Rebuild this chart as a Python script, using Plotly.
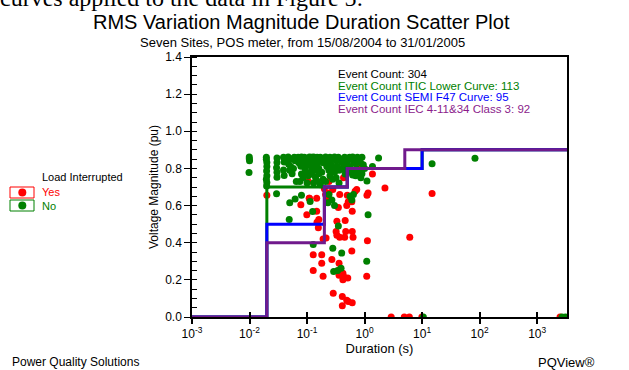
import plotly.graph_objects as go

# ---------------- data ----------------
green_dur = [0.0099, 0.0099, 0.0100, 0.0098,
             0.0196, 0.0196, 0.0200, 0.0200, 0.0198, 0.0200, 0.0196, 0.0200, 0.0198,
             0.0300, 0.0300, 0.0295, 0.0300, 0.0300, 0.0295,
             0.0390, 0.0400, 0.0390, 0.0400,
             0.047, 0.050, 0.048, 0.052, 0.050, 0.055, 0.060, 0.062, 0.058, 0.065, 0.050, 0.049, 0.062,
             0.070, 0.075, 0.072, 0.080, 0.085, 0.078, 0.090, 0.095, 0.088, 0.100, 0.092, 0.098, 0.080, 0.085, 0.075, 0.080, 0.105, 0.100,
             0.110, 0.115, 0.120, 0.125, 0.130, 0.140, 0.150, 0.160, 0.110, 0.120, 0.130, 0.140, 0.150, 0.160, 0.170, 0.180, 0.190,
             0.120, 0.140, 0.160, 0.180, 0.190, 0.130, 0.150, 0.170, 0.113, 0.125, 0.128,
             0.210, 0.220, 0.230, 0.250, 0.270, 0.300, 0.320, 0.350, 0.380, 0.400, 0.220, 0.240, 0.260, 0.280, 0.300, 0.330, 0.360,
             0.420, 0.450, 0.480, 0.250, 0.280, 0.320, 0.360, 0.210, 0.280, 0.290, 0.350, 0.400, 0.390, 0.300, 0.240, 0.270, 0.230,
             0.550, 0.600, 0.650, 0.680, 0.780, 0.800, 0.810, 0.860, 0.900, 1.100, 0.560, 0.640, 0.600, 1.150, 1.090, 1.370, 1.750,
             0.520, 0.580, 0.340,
             0.500, 0.620, 0.700, 0.750, 0.850, 0.950, 1.000, 0.720, 0.660, 0.900, 0.450, 0.500, 0.400, 0.550, 0.620, 0.700, 0.460,
             14.9, 83.0, 10.5, 2700, 3100]
green_mag = [0.862, 0.852, 0.842, 0.778,
             0.860, 0.850, 0.832, 0.810, 0.786, 0.760, 0.742, 0.724, 0.706,
             0.856, 0.832, 0.804, 0.780, 0.752, 0.664,
             0.860, 0.834, 0.792, 0.762,
             0.862, 0.850, 0.822, 0.810, 0.790, 0.772, 0.860, 0.842, 0.800, 0.730, 0.615, 0.525, 0.636,
             0.860, 0.850, 0.830, 0.862, 0.842, 0.812, 0.860, 0.850, 0.822, 0.832, 0.800, 0.780, 0.770, 0.750, 0.730, 0.655, 0.760, 0.722,
             0.862, 0.850, 0.860, 0.842, 0.862, 0.850, 0.860, 0.842, 0.820, 0.800, 0.822, 0.790, 0.812, 0.800, 0.860, 0.850, 0.830,
             0.770, 0.752, 0.772, 0.780, 0.742, 0.722, 0.732, 0.712, 0.622, 0.568, 0.390,
             0.862, 0.850, 0.840, 0.860, 0.850, 0.862, 0.842, 0.860, 0.850, 0.832, 0.810, 0.790, 0.820, 0.800, 0.780, 0.812, 0.790,
             0.800, 0.860, 0.842, 0.760, 0.742, 0.750, 0.722, 0.730, 0.370, 0.245, 0.490, 0.344, 0.262, 0.600, 0.660, 0.630, 0.615,
             0.860, 0.850, 0.832, 0.828, 0.842, 0.786, 0.770, 0.750, 0.772, 0.732, 0.650, 0.660, 0.630, 0.550, 0.300, 0.810, 0.856,
             0.800, 0.780, 0.250,
             0.855, 0.862, 0.850, 0.860, 0.830, 0.820, 0.800, 0.800, 0.790, 0.860, 0.820, 0.835, 0.800, 0.810, 0.765, 0.760, 0.770,
             0.825, 0.855, 0.0, 0.0, 0.0]

red_dur = [0.0200, 0.0780, 0.0990, 0.105, 0.109, 0.147, 0.149, 0.157, 0.160, 0.128, 0.180, 0.180, 0.128, 0.190, 0.190,
           0.214, 0.220, 0.240, 0.200, 0.210, 0.230, 0.270, 0.285, 0.330, 0.330, 0.360, 0.360, 0.430, 0.420, 0.410,
           0.490, 0.610, 0.410, 0.520, 0.370, 0.450, 0.470, 0.610, 0.630, 0.600, 0.610, 0.490, 0.520, 0.350, 0.460,
           0.685, 1.120, 1.090, 1.150, 1.100, 0.790, 2.260, 2.900, 4.900, 6.000, 9.900, 14.9, 6.100, 2500, 1.370,
           0.370, 0.500, 0.280, 0.240, 0.430, 0.560, 0.730, 0.147, 0.600, 0.110, 0.420, 0.510, 0.320]
red_mag = [0.655, 0.605, 0.550, 0.730, 0.640, 0.570, 0.510, 0.480, 0.525, 0.335, 0.335, 0.290, 0.250, 0.220, 0.420,
           0.425, 0.620, 0.668, 0.690, 0.660, 0.650, 0.310, 0.128, 0.515, 0.440, 0.290, 0.225, 0.220, 0.200, 0.110,
           0.090, 0.077, 0.060, 0.083, 0.430, 0.430, 0.460, 0.460, 0.430, 0.355, 0.570, 0.600, 0.620, 0.590, 0.520,
           0.677, 0.410, 0.220, 0.668, 0.655, 0.815, 0.695, 0.0, 0.0, 0.0, 0.0, 0.665, 0.430, 0.0, 0.770,
           0.660, 0.655, 0.686, 0.730, 0.750, 0.785, 0.686, 0.640, 0.620, 0.640, 0.235, 0.210, 0.460]

itic_dur = [0.001, 0.02, 0.02, 0.5, 0.5, 10, 10, 10000]
itic_mag = [0, 0, 0.7, 0.7, 0.8, 0.8, 0.9, 0.9]
semi_dur = [0.001, 0.02, 0.02, 0.2, 0.2, 0.5, 0.5, 10, 10, 10000]
semi_mag = [0, 0, 0.5, 0.5, 0.7, 0.7, 0.8, 0.8, 0.9, 0.9]
iec_dur = [0.001, 0.02, 0.02, 0.2, 0.2, 0.5, 0.5, 5, 5, 10000]
iec_mag = [0, 0, 0.4, 0.4, 0.7, 0.7, 0.8, 0.8, 0.9, 0.9]

x_tickvals = [1e-3, 1e-2, 1e-1, 1e0, 1e1, 1e2, 1e3]
x_ticktext = ["10<sup>-3</sup>", "10<sup>-2</sup>", "10<sup>-1</sup>", "10<sup>0</sup>",
              "10<sup>1</sup>", "10<sup>2</sup>", "10<sup>3</sup>"]

count_lines = ["Event Count: 304", "Event Count ITIC Lower Curve: 113",
               "Event Count SEMI F47 Curve: 95", "Event Count IEC 4-11&34 Class 3: 92"]
legend_labels = ["Yes", "No"]

# ---------------- style ----------------
FONT = "Arial, Liberation Sans, sans-serif"
RED = "#ff0000"
GREEN = "#008000"
BLUE = "#0000ff"
PURPLE = "#701a8c"
PURPLE_TXT = "#8b1c8b"

W, H = 629, 370
L, R, T, B = 192, 567, 57, 317


def pxx(x):
    return (x - L) / (R - L)


def pxy(y):
    return (B - y) / (B - T)


fig = go.Figure()
fig.add_trace(go.Scatter(x=red_dur, y=red_mag, mode="markers", name="Yes",
                         marker=dict(color=RED, size=7, line=dict(width=0)), showlegend=False))
fig.add_trace(go.Scatter(x=green_dur, y=green_mag, mode="markers", name="No",
                         marker=dict(color=GREEN, size=7, line=dict(width=0)), showlegend=False))
fig.add_trace(go.Scatter(x=itic_dur, y=itic_mag, mode="lines",
                         line=dict(color=GREEN, width=3), showlegend=False, hoverinfo="skip"))
fig.add_trace(go.Scatter(x=semi_dur, y=semi_mag, mode="lines",
                         line=dict(color=BLUE, width=3), showlegend=False, hoverinfo="skip"))
fig.add_trace(go.Scatter(x=iec_dur, y=iec_mag, mode="lines", xaxis="x2",
                         line=dict(color=PURPLE, width=3), showlegend=False, hoverinfo="skip"))

xr = [-3, 3.5185]
fig.update_layout(
    width=W, height=H,
    margin=dict(l=L, r=W - R, t=T, b=H - B, pad=0),
    paper_bgcolor="white", plot_bgcolor="white",
    font=dict(family=FONT, size=12, color="black"),
    xaxis=dict(type="log", range=xr, tickvals=x_tickvals, ticktext=x_ticktext,
               ticks="outside", ticklen=5, tickwidth=1.5, tickcolor="black",
               showline=True, linecolor="black", linewidth=1.5, mirror=True,
               showgrid=False, zeroline=False,
               title=dict(text="Duration (s)", font=dict(size=13), standoff=2),
               tickfont=dict(size=12)),
    xaxis2=dict(type="log", range=xr, overlaying="x", anchor="y", side="bottom",
                tickvals=x_tickvals, ticks="inside", ticklen=5, tickwidth=1.5, tickcolor="black",
                showticklabels=False, showline=False, showgrid=False, zeroline=False),
    yaxis=dict(range=[0, 1.4], dtick=0.2, tickformat=".1f",
               ticks="outside", ticklen=6, tickwidth=1, tickcolor="black",
               minor=dict(dtick=0.05, ticks="inside", ticklen=5, tickcolor="black", tickwidth=1),
               showline=True, linecolor="black", linewidth=1.5, mirror=True,
               showgrid=False, zeroline=False,
               title=dict(text="Voltage Magnitude (pu)", font=dict(size=12), standoff=4),
               tickfont=dict(size=12)),
    showlegend=False,
)

ann = []
# clipped caption text from the surrounding document
ann.append(dict(text="curves applied to the data in Figure 5:", xref="paper", yref="paper",
                x=pxx(-2), y=pxy(-2), xanchor="left", yanchor="middle", showarrow=False,
                font=dict(family="Liberation Serif, Times New Roman, serif", size=24, color="black")))
ann.append(dict(text="RMS Variation Magnitude Duration Scatter Plot", xref="paper", yref="paper",
                x=pxx(301), y=pxy(22), xanchor="center", yanchor="middle", showarrow=False,
                font=dict(size=20)))
ann.append(dict(text="Seven Sites, POS meter, from 15/08/2004 to 31/01/2005", xref="paper", yref="paper",
                x=pxx(302), y=pxy(42.5), xanchor="center", yanchor="middle", showarrow=False,
                font=dict(size=13)))
colors = ["black", GREEN, BLUE, PURPLE_TXT]
for i, (t, c) in enumerate(zip(count_lines, colors)):
    ann.append(dict(text=t, xref="paper", yref="paper", x=pxx(336), y=pxy(74 + i * 11.7),
                    xanchor="left", yanchor="middle", showarrow=False,
                    font=dict(size=11.5, color=c)))
# manual legend
ann.append(dict(text="Load Interrupted", xref="paper", yref="paper", x=pxx(40), y=pxy(177),
                xanchor="left", yanchor="middle", showarrow=False, font=dict(size=11)))
shapes = []
for i, (lab, c) in enumerate(zip(legend_labels, [RED, GREEN])):
    yc = 192.5 + i * 13
    ann.append(dict(text=lab, xref="paper", yref="paper", x=pxx(40), y=pxy(yc),
                    xanchor="left", yanchor="middle", showarrow=False, font=dict(size=11, color=c)))
    shapes.append(dict(type="rect", xref="paper", yref="paper", x0=pxx(10), x1=pxx(34),
                       y0=pxy(yc - 5.5), y1=pxy(yc + 5.5), line=dict(color=c, width=1), fillcolor="white"))
    shapes.append(dict(type="circle", xref="paper", yref="paper", x0=pxx(18.3), x1=pxx(26.3),
                       y0=pxy(yc - 4), y1=pxy(yc + 4), line=dict(color=c, width=0), fillcolor=c))
# footer
ann.append(dict(text="Power Quality Solutions", xref="paper", yref="paper", x=pxx(10), y=pxy(362),
                xanchor="left", yanchor="middle", showarrow=False, font=dict(size=12)))
ann.append(dict(text="PQView®", xref="paper", yref="paper", x=pxx(597), y=pxy(362),
                xanchor="right", yanchor="middle", showarrow=False, font=dict(size=13)))

fig.update_layout(annotations=ann, shapes=shapes)
fig.write_html("out.html")
